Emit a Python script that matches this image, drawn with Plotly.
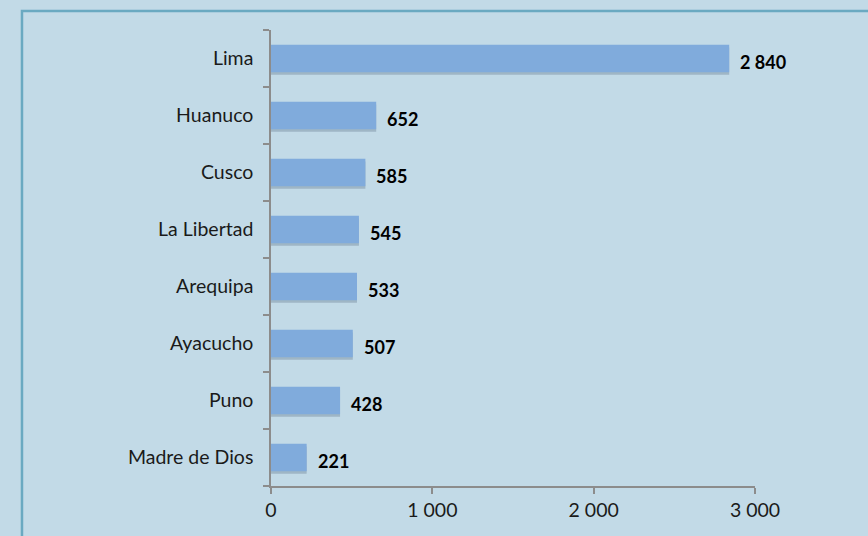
import plotly.graph_objects as go

# Regions and their counts, top to bottom
regiones = ["Lima", "Huanuco", "Cusco", "La Libertad", "Arequipa",
            "Ayacucho", "Puno", "Madre de Dios"]
valores = [2840, 652, 585, 545, 533, 507, 428, 221]
x_ticks = [0, 1000, 2000, 3000]


def miles(v):
    return f"{v:,}".replace(",", " ")


BG = "#C2DAE7"
BAR = "#80ABDC"
FONT = "Lato, Carlito, Calibri, sans-serif"

fig = go.Figure()

# soft drop shadow under each bar
fig.add_trace(go.Bar(
    x=valores, y=regiones, orientation="h",
    marker=dict(color="rgba(70,90,110,0.28)", line=dict(width=0)),
    width=0.48, offset=-0.285,
    hoverinfo="skip", showlegend=False,
))
fig.add_trace(go.Bar(
    x=valores, y=regiones, orientation="h",
    marker=dict(color=BAR, line=dict(width=0)),
    width=0.48, offset=-0.24,
    showlegend=False,
))

# value labels to the right of each bar
for r, v in zip(regiones, valores):
    fig.add_annotation(
        x=v, y=r, text=f"<b>{miles(v)}</b>", showarrow=False,
        xanchor="left", yanchor="middle", xshift=9, yshift=-3,
        font=dict(family=FONT, size=18, color="#000000"),
    )

# outer frame
fig.add_shape(
    type="rect", xref="paper", yref="paper",
    x0=-0.5145, x1=1.35, y0=-0.2, y1=1.0417,
    line=dict(color="#6AA9C1", width=2.5), fillcolor="rgba(0,0,0,0)",
    layer="below",
)

fig.update_layout(
    width=868, height=536,
    margin=dict(l=271, r=113, t=30, b=50),
    paper_bgcolor=BG, plot_bgcolor=BG,
    separators=". ",
    barmode="overlay",
    font=dict(family=FONT, size=19.5, color="#1a1a1a"),
    xaxis=dict(
        range=[0, 3000], tickvals=x_ticks,
        ticktext=[miles(t) for t in x_ticks],
        showgrid=False, zeroline=False,
        showline=True, linecolor="#8C8C8C", linewidth=1.5,
        ticks="outside", ticklen=6, tickcolor="#8C8C8C", tickwidth=1.5,
        ticklabelstandoff=0,
    ),
    yaxis=dict(
        categoryorder="array", categoryarray=regiones[::-1],
        showgrid=False, zeroline=False,
        showline=True, linecolor="#8C8C8C", linewidth=1.5,
        ticks="outside", ticklen=6, tickcolor="#8C8C8C", tickwidth=1.5,
        tickson="boundaries", ticklabelstandoff=12,
    ),
)

fig.write_html("out.html")
